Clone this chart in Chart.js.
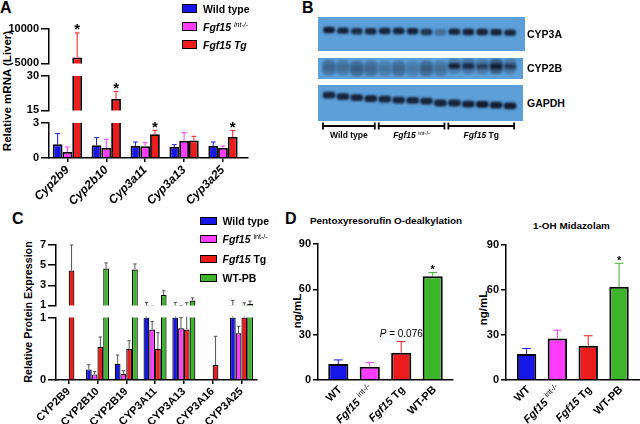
<!DOCTYPE html>
<html>
<head>
<meta charset="utf-8">
<title>Fgf15 and hepatic CYP expression</title>
<script src="https://cdn.jsdelivr.net/npm/chart.js@4.4.1/dist/chart.umd.min.js"></script>
<style>
  html, body { margin: 0; padding: 0; background: #fff; }
  body { position: relative; width: 640px; height: 424px; overflow: hidden;
         font-family: 'Liberation Sans', Arial, Helvetica, sans-serif; color: #000; }
  canvas { position: absolute; }
  .t { position: absolute; font-weight: bold; white-space: nowrap; line-height: 1; }
  .letter { font-size: 16px; }
  .vt { transform: translate(-50%, -50%) rotate(-90deg); }
  .mid { transform: translate(-50%, -50%); }
  .lm { transform: translateY(-50%); }
  .leg { position: absolute; display: flex; align-items: center; height: 16px; font-weight: bold;
         white-space: nowrap; transform: translateY(-50%); }
  .sw { display: inline-block; box-sizing: border-box; border: 1.5px solid #000; }
  sup { font-size: 0.68em; font-weight: normal; line-height: 0; vertical-align: 0.5em; }
</style>
</head>
<body>
<div class="t letter" style="left:0;top:0">A</div>
<div class="t letter" style="left:302px;top:0">B</div>
<div class="t letter" style="left:12px;top:211px">C</div>
<div class="t letter" style="left:285px;top:211px">D</div>

<div class="t vt" style="left:7.5px;top:91px;font-size:11.5px">Relative mRNA (Liver)</div>
<div class="t vt" style="left:27.5px;top:312px;font-size:10.7px">Relative Protein Expression</div>
<div class="t vt" style="left:297.5px;top:311px;font-size:11.5px">ng/mL</div>
<div class="t vt" style="left:484px;top:308px;font-size:11.5px">ng/mL</div>

<div class="t mid" style="left:386px;top:220.5px;font-size:9.9px">Pentoxyresorufin O-dealkylation</div>
<div class="t mid" style="left:571.5px;top:225.5px;font-size:9.9px">1-OH Midazolam</div>

<script>
const FONT = "'Liberation Sans', Arial, Helvetica, sans-serif";
Chart.defaults.font.family = FONT;
Chart.defaults.color = '#000';

const BLUE = '#1616e8', MAGENTA = '#ff3cff', RED = '#ec1c1c', GREEN = '#3cb52a';

// A: relative mRNA in liver (broken y axis)
const mrnaGenes    = ['Cyp2b9', 'Cyp2b10', 'Cyp3a11', 'Cyp3a13', 'Cyp3a25'];
const mrnaGroups   = ['Wild type', 'Fgf15 int-/-', 'Fgf15 Tg'];
const mrnaWT       = [1.17, 1.09, 1.03, 0.94, 1.03];
const mrnaWTErr    = [2.09, 1.74, 1.37, 1.14, 1.37];
const mrnaInt      = [0.51, 0.86, 1.0, 1.46, 0.86];
const mrnaIntErr   = [0.94, 1.6, 1.31, 2.17, 1.03];
const mrnaTg       = [5860, 20, 2.03, 1.51, 1.8];
const mrnaTgErr    = [9430, 23.3, 2.37, 1.86, 2.37];
const mrnaTgStar   = [true, true, true, false, true];
const mrnaSegments = [[0, 3], [15, 30], [5000, 10000]];

// B: western blot, 14 lanes
const blotLanes      = [1, 2, 3, 4, 5, 6, 7, 8, 9, 10, 11, 12, 13, 14];
const blotGroups     = ['Wild type', 'Fgf15 int-/-', 'Fgf15 Tg'];
const blotGroupLanes = [[1, 4], [5, 9], [10, 14]];
const blotProteins   = ['CYP3A', 'CYP2B', 'GAPDH'];
const cyp3aDark = [0.92, 0.88, 0.8, 0.85, 0.88, 0.88, 0.88, 0.75, 0.35, 0.88, 0.9, 0.9, 0.88, 0.88];
const cyp3aPos  = [0.62, 0.6, 0.58, 0.58, 0.59, 0.59, 0.58, 0.56, 0.55, 0.57, 0.56, 0.56, 0.55, 0.54];
const cyp2bDark = [0.15, 0.15, 0.2, 0.15, 0.15, 0.15, 0.1, 0.2, 0.15, 0.85, 0.75, 0.55, 0.85, 0.6];
const cyp2bHaze = [0.3, 0.25, 0.35, 0.3, 0.2, 0.3, 0.2, 0.35, 0.25, 0.25, 0.3, 0.25, 0.45, 0.25];
const cyp2bPos  = [0.55, 0.55, 0.5, 0.5, 0.5, 0.5, 0.5, 0.5, 0.5, 0.62, 0.62, 0.6, 0.6, 0.6];
const gapdhDark = [0.88, 0.88, 0.88, 0.9, 0.88, 0.88, 0.88, 0.88, 0.88, 0.88, 0.9, 0.95, 0.92, 0.92];
const gapdhPos  = [0.72, 0.68, 0.65, 0.62, 0.61, 0.58, 0.57, 0.55, 0.5, 0.5, 0.47, 0.46, 0.44, 0.42];

// C: relative protein expression (broken y axis)
const protGenes   = ['CYP2B9', 'CYP2B10', 'CYP2B19', 'CYP3A11', 'CYP3A13', 'CYP3A16', 'CYP3A25'];
const protGroups  = ['Wild type', 'Fgf15 int-/-', 'Fgf15 Tg', 'WT-PB'];
const protWT      = [null, 0.17, 0.26, 1.0, 1.0, null, 1.0];
const protWTErr   = [null, 0.245, 0.4, 1.3, 1.3, null, 1.48];
const protInt     = [null, 0.09, 0.1, 0.81, 0.83, null, 0.75];
const protIntErr  = [null, 0.135, 0.15, 0.935, 1.0, null, 0.86];
const protTg      = [4.47, 0.53, 0.5, 0.5, 0.81, 0.24, 1.0];
const protTgErr   = [7.0, 0.69, 0.63, 0.76, 1.27, 0.7, 1.26];
const protPB      = [null, 4.67, 4.57, 2.04, 1.49, null, 1.15];
const protPBErr   = [null, 5.22, 5.12, 2.46, 1.75, null, 1.43];
const protBottom  = [0, 1];
const protTop     = [1, 3, 5, 7];

// D: enzyme activity assays
const assayGroups = ['WT', 'Fgf15 int-/-', 'Fgf15 Tg', 'WT-PB'];
const proxValues  = [10.6, 8.8, 18.1, 68.6];
const proxErr     = [13.3, 11.5, 25.4, 71.2];
const proxStar    = [false, false, false, true];
const proxNote    = ['', '', 'P = 0.076', ''];
const midazValues = [17.3, 27.7, 22.9, 62.2];
const midazErr    = [21, 33.2, 29.5, 77.8];
const midazStar   = [false, false, false, true];
const assayTicks  = [0, 30, 60, 90];

// "Fgf15 int-/-" -> italic gene name + superscript genotype
function richParts(label, italicAll) {
  const m = label.match(/^Fgf15(?: (.*))?$/);
  if (!m) return [{ t: label }];
  const parts = [{ t: 'Fgf15', i: true }];
  if (m[1] === 'int-/-') parts.push({ t: ' ' }, { t: 'int-/-', sup: true, i: italicAll });
  else if (m[1]) parts.push({ t: ' ' + m[1], i: italicAll });
  return parts;
}

function richHTML(label, italicAll) {
  return '<span>' + richParts(label, italicAll).map(p => {
    const st = p.i ? 'font-style:italic;' : '';
    return p.sup ? `<sup style="${st}">${p.t}</sup>` : `<span style="${st}">${p.t}</span>`;
  }).join('') + '</span>';
}

function drawRich(ctx, parts, x, y, size, align, weight) {
  let total = 0;
  const f = parts.map(p => {
    const s = p.sup ? size * 0.7 : size;
    const font = `${p.i ? 'italic ' : ''}${p.sup ? 'normal' : (p.w || weight)} ${s}px ${FONT}`;
    ctx.font = font;
    const w = ctx.measureText(p.t).width;
    total += w;
    return { font, w, dy: p.sup ? -size * 0.35 : 0 };
  });
  let cx = align === 'right' ? x - total : align === 'center' ? x - total / 2 : x;
  ctx.textAlign = 'left';
  parts.forEach((p, k) => {
    ctx.font = f[k].font;
    ctx.fillText(p.t, cx, y + f[k].dy);
    cx += f[k].w;
  });
}

// error bars (upper only), significance stars, notes, rich x labels
const barExtras = {
  id: 'extras',
  afterDatasetsDraw(chart, args, opts) {
    const { ctx, chartArea: a } = chart;
    const y = chart.scales.y;
    ctx.save();
    ctx.beginPath();
    ctx.rect(a.left, a.top - 1, a.right - a.left, a.bottom - a.top + 1);
    ctx.clip();
    chart.data.datasets.forEach((ds, di) => {
      if (!ds.err) return;
      chart.getDatasetMeta(di).data.forEach((bar, i) => {
        const v = ds.data[i].y, e = ds.err[i];
        if (v == null || e == null) return;
        const y0 = y.getPixelForValue(v), y1 = y.getPixelForValue(e);
        const half = bar.width * (opts.cap || 0.25);
        ctx.strokeStyle = Array.isArray(ds.errColor) ? ds.errColor[i] : ds.errColor;
        ctx.lineWidth = opts.errWidth || 1;
        ctx.beginPath();
        ctx.moveTo(bar.x, y0); ctx.lineTo(bar.x, y1);
        ctx.moveTo(bar.x - half, y1); ctx.lineTo(bar.x + half, y1);
        ctx.stroke();
      });
    });
    ctx.restore();

    ctx.save();
    ctx.fillStyle = '#000';
    chart.data.datasets.forEach((ds, di) => {
      chart.getDatasetMeta(di).data.forEach((bar, i) => {
        const e = ds.err ? ds.err[i] : null;
        if (e == null || e < y.min || e > y.max) return;
        const py = y.getPixelForValue(e);
        if (ds.stars && ds.stars[i]) {
          ctx.font = `bold ${opts.starSize || 13}px ${FONT}`;
          ctx.textAlign = 'center'; ctx.textBaseline = 'alphabetic';
          ctx.fillText('*', bar.x, py + (opts.starDy || 0));
        }
        if (ds.notes && ds.notes[i]) {
          ctx.textBaseline = 'middle';
          const [p, rest] = [ds.notes[i].slice(0, 1), ds.notes[i].slice(1)];
          drawRich(ctx, [{ t: p, i: true }, { t: rest }], bar.x, py - 7, opts.noteSize || 10, 'center', 'normal');
        }
      });
    });
    ctx.restore();
  },
  afterDraw(chart, args, opts) {
    if (!opts.richX) return;
    const { ctx, chartArea: a } = chart;
    const x = chart.scales.x;
    ctx.save();
    ctx.fillStyle = '#000';
    ctx.textBaseline = 'middle';
    chart.data.labels.forEach((lab, i) => {
      ctx.save();
      ctx.translate(x.getPixelForValue(i) + 2, a.bottom + 8);
      ctx.rotate(-Math.PI / 4);
      drawRich(ctx, richParts(lab, false), 0, 0, opts.richX, 'right', 'bold');
      ctx.restore();
    });
    ctx.restore();
  }
};

function addCanvas(left, top, w, h) {
  const c = document.createElement('canvas');
  c.width = w; c.height = h;
  c.style.left = left + 'px'; c.style.top = top + 'px';
  c.style.width = w + 'px'; c.style.height = h + 'px';
  document.body.appendChild(c);
  return c;
}

function barSet(vals, errs, color, o = {}) {
  return {
    data: vals.map((y, x) => ({ x, y })),
    err: errs,
    errColor: o.errColor || color,
    stars: o.stars, notes: o.notes,
    backgroundColor: color,
    borderColor: '#000',
    borderWidth: o.bw || 1.5,
    barPercentage: o.bp || 1,
    categoryPercentage: o.cp || 1
  };
}

// bar charts round a linear index axis outwards; pin it to the exact range
const pinRange = (lo, hi) => s => { s.min = lo; s.max = hi; };

// one segment of a (possibly broken) bar chart; top/bottom = pixel edges of its plot area
function segmentChart(o) {
  const h = o.padTop + (o.bottom - o.top) + (o.showX ? o.xHeight : o.padBottom);
  const cv = addCanvas(o.left, o.top - o.padTop, o.width, h);
  return new Chart(cv, {
    type: 'bar',
    data: { labels: o.labels, datasets: o.datasets },
    plugins: [barExtras],
    options: {
      responsive: false, animation: false, devicePixelRatio: 1, events: [],
      layout: { padding: { left: 0, top: o.padTop, right: o.padRight, bottom: o.showX ? 0 : o.padBottom } },
      plugins: { legend: { display: false }, tooltip: { enabled: false }, extras: o.extras || {} },
      scales: {
        x: {
          type: 'linear', display: o.showX, min: o.xMin, max: o.xMax, offset: false, bounds: 'data',
          afterDataLimits: pinRange(o.xMin, o.xMax),
          afterBuildTicks: s => { s.ticks = o.labels.map((_, i) => ({ value: i })); s.min = o.xMin; s.max = o.xMax; },
          afterFit: s => { if (o.showX) s.height = o.xHeight; },
          ticks: { display: !o.richX, autoSkip: false, minRotation: 45, maxRotation: 45, padding: 1,
                   font: o.xFont, color: '#000', callback: v => o.labels[v] },
          grid: { display: o.xTick > 0, offset: false, drawOnChartArea: false, drawTicks: o.xTick > 0,
                  tickLength: o.xTick, color: '#000', lineWidth: 1.5 },
          border: { display: true, color: '#000', width: 1.5 }
        },
        y: {
          type: 'linear', min: o.yMin, max: o.yMax,
          afterBuildTicks: s => { s.ticks = o.yTicks.map(v => ({ value: v })); },
          afterFit: s => { s.width = o.yWidth; },
          ticks: { padding: 2, font: { size: 11, weight: 'bold' }, color: '#000', callback: v => String(v) },
          grid: { drawOnChartArea: false, tickLength: o.yTick, color: '#000', lineWidth: 1.5 },
          border: { color: '#000', width: 1.5 }
        }
      }
    }
  });
}

// ---------- Panel A ----------
const mrnaSets = () => [
  barSet(mrnaWT, mrnaWTErr, BLUE, { cp: 0.753, bw: 1.8 }),
  barSet(mrnaInt, mrnaIntErr, MAGENTA, { cp: 0.753, bw: 1.8 }),
  barSet(mrnaTg, mrnaTgErr, RED, { cp: 0.753, bw: 1.8, stars: mrnaTgStar })
];
const aBase = { left: 0, width: 252, yWidth: 49, padRight: 4, xMin: -0.473, xMax: 4.643,
                labels: mrnaGenes, yTick: 8, xTick: 4,
                xFont: { size: 12, style: 'italic', weight: 'bold' },
                extras: { starSize: 15, starDy: 1.5 } };
const aAreas = [[123, 158, 10], [76, 111, 10], [29, 64, 14]];
mrnaSegments.forEach((seg, k) => segmentChart(Object.assign({}, aBase, {
  top: aAreas[k][0], bottom: aAreas[k][1], padTop: aAreas[k][2], padBottom: 8,
  showX: k === 0, xHeight: 62, yMin: seg[0], yMax: seg[1], yTicks: seg,
  datasets: mrnaSets()
})));

// ---------- Panel C ----------
const protSets = () => [
  barSet(protWT, protWTErr, BLUE, { cp: 0.8, bw: 1.2, errColor: '#555' }),
  barSet(protInt, protIntErr, MAGENTA, { cp: 0.8, bw: 1.2, errColor: '#555' }),
  barSet(protTg, protTgErr, RED, { cp: 0.8, bw: 1.2, errColor: '#555' }),
  barSet(protPB, protPBErr, GREEN, { cp: 0.8, bw: 1.2, errColor: '#555' })
];
const cBase = { left: 0, width: 262, yWidth: 56, padRight: 5, xMin: -0.44, xMax: 6.54,
                labels: protGenes, yTick: 8, xTick: 4,
                xFont: { size: 11, weight: 'bold' }, extras: { cap: 0.3 } };
segmentChart(Object.assign({}, cBase, {
  top: 317, bottom: 380, padTop: 8, showX: true, xHeight: 44,
  yMin: 0, yMax: 1, yTicks: protBottom, datasets: protSets()
}));
segmentChart(Object.assign({}, cBase, {
  top: 245, bottom: 307, padTop: 9, padBottom: 7, showX: false,
  yMin: 1, yMax: 7, yTicks: protTop, datasets: protSets()
}));

// ---------- Panel D ----------
const dColors = [BLUE, MAGENTA, RED, GREEN];
segmentChart({
  left: 270, width: 186, yWidth: 48, padRight: 3, xMin: -0.645, xMax: 3.645,
  top: 244, bottom: 380, padTop: 14, showX: true, xHeight: 44, richX: true, xTick: 0, yTick: 5,
  labels: assayGroups, yMin: 0, yMax: 90, yTicks: assayTicks,
  extras: { richX: 11, starSize: 11, starDy: 0.5, noteSize: 10, cap: 0.22 },
  datasets: [barSet(proxValues, proxErr, dColors, { bp: 0.64, bw: 2, stars: proxStar, notes: proxNote })]
});
segmentChart({
  left: 460, width: 180, yWidth: 46, padRight: 0, xMin: -0.667, xMax: 3.68,
  top: 245, bottom: 380, padTop: 15, showX: true, xHeight: 44, richX: true, xTick: 0, yTick: 5,
  labels: assayGroups, yMin: 0, yMax: 90, yTicks: assayTicks,
  extras: { richX: 11, starSize: 11, starDy: 0.5, cap: 0.22 },
  datasets: [barSet(midazValues, midazErr, dColors, { bp: 0.63, bw: 2, stars: midazStar })]
});

// ---------- Panel B: blot strips ----------
const LANE_X0 = 329, LANE_STEP = 13.93;
const blotPlugin = {
  id: 'blot',
  beforeDatasetsDraw(chart) {
    const { ctx, chartArea: a } = chart;
    ctx.fillStyle = '#5c9fd9';
    ctx.fillRect(a.left, a.top, a.right - a.left, a.bottom - a.top);
    ctx.filter = 'blur(0.8px)';
  },
  afterDatasetsDraw(chart) { chart.ctx.filter = 'none'; },
  afterDraw(chart, args, opts) {
    if (!opts.brackets) return;
    const { ctx, chartArea: a } = chart;
    const x = chart.scales.x;
    const yb = a.bottom + 5;
    ctx.save();
    ctx.strokeStyle = '#000'; ctx.fillStyle = '#000'; ctx.lineWidth = 1.8;
    ctx.textBaseline = 'middle';
    blotGroups.forEach((g, k) => {
      const x0 = x.getPixelForValue(blotGroupLanes[k][0]) - 6;
      const x1 = x.getPixelForValue(blotGroupLanes[k][1]) + 4;
      ctx.beginPath();
      ctx.moveTo(x0, yb); ctx.lineTo(x1, yb);
      ctx.moveTo(x0, yb - 3.5); ctx.lineTo(x0, yb + 3.5);
      ctx.moveTo(x1, yb - 3.5); ctx.lineTo(x1, yb + 3.5);
      ctx.stroke();
      drawRich(ctx, richParts(g, false), (x0 + x1) / 2, yb + 10, 8.5, 'center', 'bold');
    });
    ctx.restore();
  }
};

const bands = (pos, size, dark, thick, radius) => ({
  data: blotLanes.map((x, i) => ({ x, y: [pos[i] - size / 2, pos[i] + size / 2] })),
  backgroundColor: dark.map(d => `rgba(14,18,36,${d})`),
  borderWidth: 0, borderRadius: radius, borderSkipped: false, barThickness: thick, grouped: false
});

function blotChart(left, top, width, height, padBottom, datasets, brackets) {
  const cv = addCanvas(left, top, width, height + padBottom);
  const xMin = 1 - (LANE_X0 - left) / LANE_STEP;
  const xMax = 14 + (left + width - LANE_X0 - 13 * LANE_STEP) / LANE_STEP;
  return new Chart(cv, {
    type: 'bar',
    data: { datasets },
    plugins: [blotPlugin],
    options: {
      responsive: false, animation: false, devicePixelRatio: 1, events: [],
      layout: { padding: { left: 0, right: 0, top: 0, bottom: padBottom } },
      plugins: { legend: { display: false }, tooltip: { enabled: false }, blot: { brackets } },
      scales: {
        x: { type: 'linear', display: false, min: xMin, max: xMax, offset: false, bounds: 'data',
             afterDataLimits: pinRange(xMin, xMax),
             afterBuildTicks: pinRange(xMin, xMax) },
        y: { type: 'linear', display: false, min: 0, max: 1 }
      }
    }
  });
}

blotChart(318, 17, 207, 34, 0, [bands(cyp3aPos, 0.17, cyp3aDark, 11, 3)], false);
blotChart(318, 58, 205, 21, 0, [bands(cyp2bPos, 0.7, cyp2bHaze, 13, 5), bands(cyp2bPos, 0.24, cyp2bDark, 11, 3)], false);
blotChart(318, 85, 205, 36, 30, [bands(gapdhPos, 0.17, gapdhDark, 12, 3)], true);

const blotLabelY = [34, 67.7, 102.7];
blotProteins.forEach((p, k) => {
  const d = document.createElement('div');
  d.className = 't lm';
  d.style.cssText = `left:527px;top:${blotLabelY[k]}px;font-size:10.5px`;
  d.textContent = p;
  document.body.appendChild(d);
});

// ---------- legends ----------
function buildLegend(x, ys, names, colors, box, gap, size, italicAll) {
  names.forEach((name, k) => {
    const row = document.createElement('div');
    row.className = 'leg';
    row.style.left = x + 'px';
    row.style.top = ys[k] + 'px';
    row.style.fontSize = size + 'px';
    row.innerHTML = `<span class="sw" style="width:${box[0]}px;height:${box[1]}px;background:${colors[k]};margin-right:${gap}px"></span>`
      + richHTML(name, italicAll);
    document.body.appendChild(row);
  });
}
buildLegend(182, [8.7, 26.5, 44.5], mrnaGroups, [BLUE, MAGENTA, RED], [14.5, 8.5], 6.5, 10.5, true);
buildLegend(200, [220.7, 239.3, 259, 277.7], protGroups, [BLUE, MAGENTA, RED, GREEN], [16.5, 8], 6, 10.5, false);
</script>
</body>
</html>
